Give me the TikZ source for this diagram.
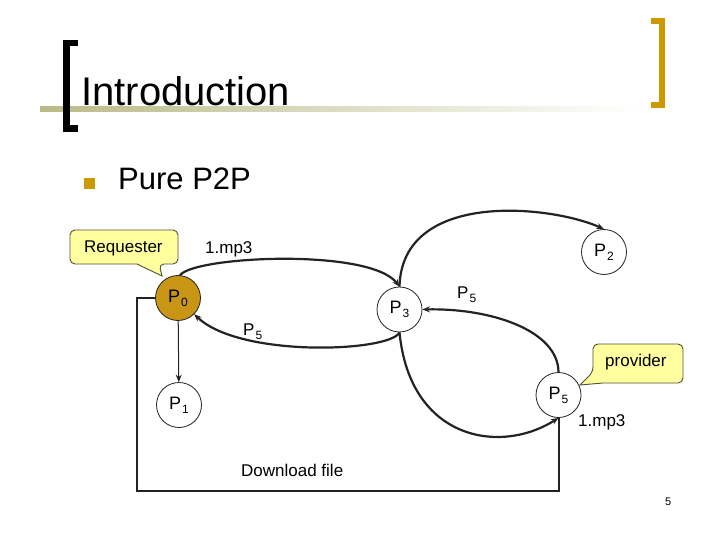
\documentclass[tikz,border=0pt]{standalone}
\usepackage{fontspec}
\setmainfont{Liberation Sans}
\usetikzlibrary{arrows.meta, positioning, calc}
\definecolor{BracketGold}{RGB}{204,153,0}
\definecolor{PeerGold}{RGB}{200,150,20}
\definecolor{NoteYellow}{RGB}{255,255,160}
\definecolor{NoteEdge}{RGB}{80,80,50}
\definecolor{BarOlive}{RGB}{186,186,136}
\definecolor{LineGray}{RGB}{35,35,35}

\newcommand{\pname}[1]{P\kern1pt\raisebox{-4pt}{\fontsize{12}{12}\selectfont #1}}

\begin{document}
\begin{tikzpicture}[x=1pt, y=-1pt, >={Stealth[length=7.5pt,width=6pt]},
    peer/.style={circle, draw=LineGray, line width=0.8pt, minimum size=45pt, inner sep=0pt, font=\fontsize{18}{18}\selectfont},
    flow/.style={draw=LineGray, line width=2.2pt},
    lbl/.style={anchor=base west, inner sep=0pt, font=\fontsize{17}{17}\selectfont},
    note/.style={fill=NoteYellow, draw=NoteEdge, line width=0.9pt}]
        % Slide
        \fill[white] (0,0) rectangle (720,540);
        \useasboundingbox (0,0) rectangle (720,540);

        % Title with brackets
        \shade[left color=BarOlive, right color=white] (40,107) rectangle (640,112);
        \draw[line width=6.5pt] (78,43.25) -- (66.25,43.25) -- (66.25,128.75) -- (78,128.75);
        \draw[BracketGold, line width=6pt] (651,21) -- (662,21) -- (662,105) -- (651,105);
        \node[anchor=base west, inner sep=0pt, font=\fontsize{40}{40}\selectfont] (title) at (81,106) {Introduction};

        % Bullet
        \fill[BracketGold] (84,178) rectangle (95,189);
        \node[anchor=base west, inner sep=0pt, font=\fontsize{31}{31}\selectfont] (topic) at (118,190) {Pure P2P};

        % Callouts
        \draw[note, rounded corners=5pt] (137,264) -- (70,264) -- (70,230) -- (178,230) -- (178,264) -- (159,264) [sharp corners] -- (162,276) -- cycle;
        \node[lbl] (req) at (84,252) {Requester};
        \draw[note, rounded corners=5pt] (603,383) -- (683,383) -- (683,344) -- (593,344) -- (593,372) [sharp corners] -- (580,385) -- cycle;
        \node[lbl] (prov) at (605,366) {provider};

        % Peers
        \node[peer, fill=PeerGold] (p0) at (178,298) {\pname{0}};
        \node[peer] (p1) at (179,405) {\pname{1}};
        \node[peer] (p2) at (604,252) {\pname{2}};
        \node[peer] (p3) at (399.5,309.5) {\pname{3}};
        \node[peer] (p5) at (558.5,395) {\pname{5}};

        % Query
        \draw[flow, ->] (p0.85) .. controls (195,256) and (370,248) .. (p3.north);
        \draw[flow, ->] (p3.north) .. controls (402,190) and (550,205) .. (p2.north);
        \draw[flow, ->] (p3.south) .. controls (410,440) and (500,455) .. (p5.south);
        \draw[->, LineGray, line width=1pt] (p0) -- (p1);

        % Query hit
        \draw[flow, ->] (p5.north) .. controls (558,330) and (490,308) .. (p3.east);
        \draw[flow, ->] (p3.south) .. controls (390,352) and (240,358) .. (p0.-45);

        % Download
        \coordinate (corner) at (137,491);
        \draw[LineGray, line width=2pt] (p0.west) -| (corner) -| (p5.south);

        % Labels
        \node[lbl] (q1) at (205,254) {1.mp3};
        \node[lbl] (h1) at (243,335) {\pname{5}};
        \node[lbl] (h2) at (457,298) {\pname{5}};
        \node[lbl] (q2) at (578,426) {1.mp3};
        \node[lbl] (dl) at (241,476) {Download file};
        \node[anchor=base west, inner sep=0pt, font=\fontsize{11}{11}\selectfont] (page) at (665,505) {5};
    \end{tikzpicture}
\end{document}
